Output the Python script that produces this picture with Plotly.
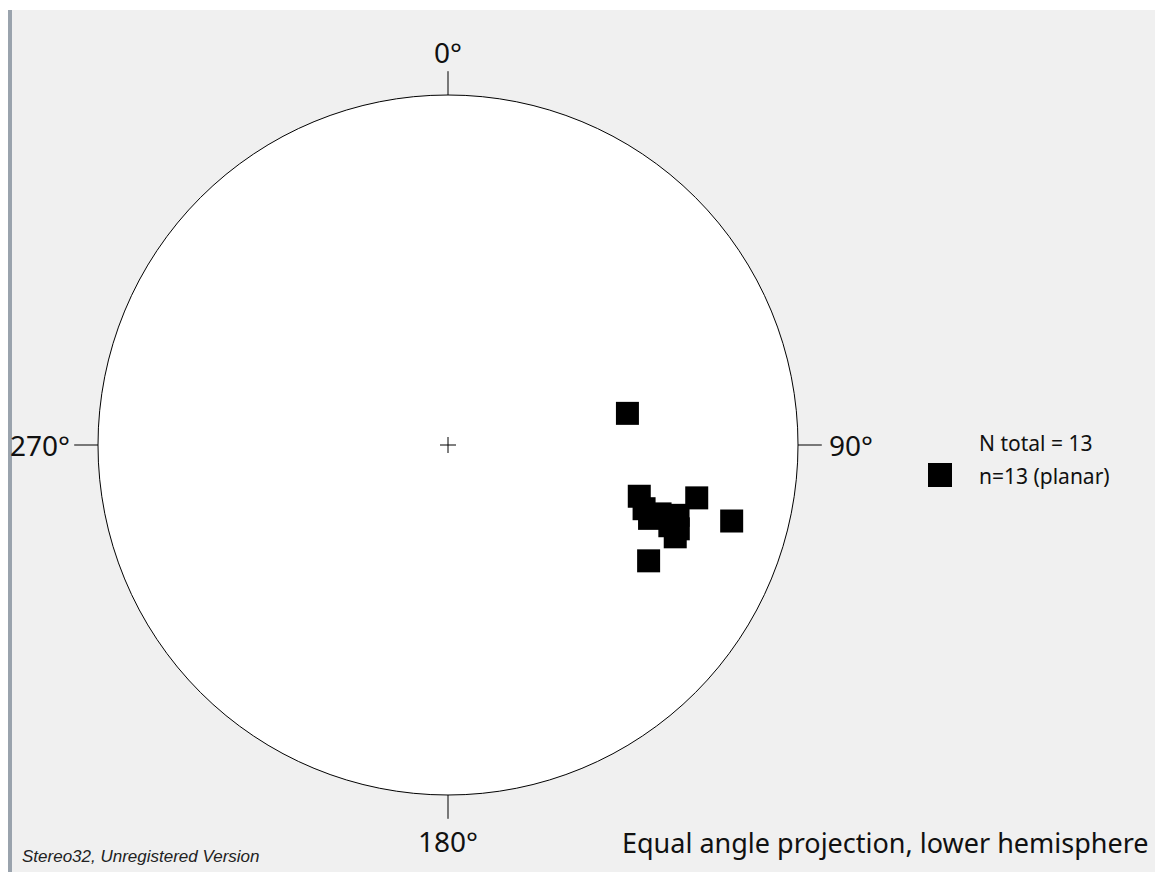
import numpy as np
import plotly.graph_objects as go

# Planar data (dip direction / dip), plotted as poles
dip_direction = [260, 282, 285, 300, 285, 288, 290, 290, 292, 287, 290, 289, 288]
dip = [55, 72, 80, 67, 59, 61, 63, 68, 70, 69, 70, 68, 65]

direction_labels = ["0°", "90°", "180°", "270°"]
direction_azimuths = [0, 90, 180, 270]

legend_total = "N total = 13"
legend_item = "n=13 (planar)"
projection_text = "Equal angle projection, lower hemisphere"
footer_text = "Stereo32, Unregistered Version"

# Pole of plane: trend = dipdir + 180, plunge = 90 - dip ; equal angle radius = tan(dip/2)
dd = np.radians(np.array(dip_direction) + 180.0)
rr = np.tan(np.radians(np.array(dip)) / 2.0)
px = rr * np.sin(dd)
py = rr * np.cos(dd)

OFF = 8  # browser body margin
W, H = 1163 - OFF, 872 - OFF
CX, CY, R = 448 - OFF, 445 - OFF, 350
xr = [-CX / R, (W - CX) / R]
yr = [(CY - H) / R, CY / R]


def pxp(x):
    return (x - OFF) / W


def pyp(y):
    return 1 - (y - OFF) / H


fig = go.Figure()

fig.add_trace(go.Scatter(
    x=px, y=py, mode="markers",
    marker=dict(symbol="square", size=23, color="black", line=dict(width=0)),
    showlegend=False, hoverinfo="skip",
))

shapes = []
# background decorations
shapes.append(dict(type="rect", xref="paper", yref="paper", x0=0, x1=1, y0=pyp(10), y1=1,
                   fillcolor="white", line=dict(width=0), layer="below"))
shapes.append(dict(type="rect", xref="paper", yref="paper", x0=pxp(8), x1=pxp(12), y0=0, y1=pyp(10),
                   fillcolor="#9aa3ad", line=dict(width=0), layer="below"))
shapes.append(dict(type="rect", xref="paper", yref="paper", x0=pxp(1157), x1=1, y0=0, y1=1,
                   fillcolor="#b9d1ea", line=dict(width=0), layer="below"))
# primitive circle
shapes.append(dict(type="circle", xref="x", yref="y", x0=-1, x1=1, y0=-1, y1=1,
                   fillcolor="white", line=dict(color="black", width=1), layer="below"))
# ticks at cardinal directions
for az in direction_azimuths:
    a = np.radians(az)
    shapes.append(dict(type="line", xref="x", yref="y",
                       x0=np.sin(a), y0=np.cos(a), x1=1.068 * np.sin(a), y1=1.068 * np.cos(a),
                       line=dict(color="black", width=1)))
# centre cross
c = 8 / R
shapes.append(dict(type="line", xref="x", yref="y", x0=-c, x1=c, y0=0, y1=0, line=dict(color="black", width=1)))
shapes.append(dict(type="line", xref="x", yref="y", x0=0, x1=0, y0=-c, y1=c, line=dict(color="black", width=1)))

annotations = []
label_r = [1.123, 1.152, 1.13, 1.165]
for lab, az, lr in zip(direction_labels, direction_azimuths, label_r):
    a = np.radians(az)
    annotations.append(dict(x=lr * np.sin(a), y=lr * np.cos(a), xref="x", yref="y", text=lab,
                            showarrow=False, font=dict(family="Noto Sans", size=28, color="#111"),
                            xanchor="center", yanchor="middle"))

# legend (manual)
annotations.append(dict(x=pxp(977), y=pyp(443), xref="paper", yref="paper", text=legend_total,
                        showarrow=False, xanchor="left", yanchor="middle",
                        font=dict(family="Noto Sans", size=21, color="#111")))
annotations.append(dict(x=pxp(977), y=pyp(476), xref="paper", yref="paper", text=legend_item,
                        showarrow=False, xanchor="left", yanchor="middle",
                        font=dict(family="Noto Sans", size=21, color="#111")))
shapes.append(dict(type="rect", xref="paper", yref="paper", x0=pxp(928), x1=pxp(952),
                   y0=pyp(487), y1=pyp(463), fillcolor="black", line=dict(width=0)))

annotations.append(dict(x=pxp(1151), y=pyp(842), xref="paper", yref="paper", text=projection_text,
                        showarrow=False, xanchor="right", yanchor="middle",
                        font=dict(family="Noto Sans", size=27, color="#111")))
annotations.append(dict(x=pxp(20), y=pyp(856), xref="paper", yref="paper",
                        text="<i>" + footer_text + "</i>",
                        showarrow=False, xanchor="left", yanchor="middle",
                        font=dict(family="Liberation Sans", size=17, color="#222")))

fig.update_layout(
    width=W, height=H,
    margin=dict(l=0, r=0, t=0, b=0),
    paper_bgcolor="#f0f0f0", plot_bgcolor="rgba(0,0,0,0)",
    xaxis=dict(range=xr, visible=False, fixedrange=True),
    yaxis=dict(range=yr, visible=False, fixedrange=True),
    shapes=shapes, annotations=annotations,
    showlegend=False,
)

fig.write_html("out.html")
